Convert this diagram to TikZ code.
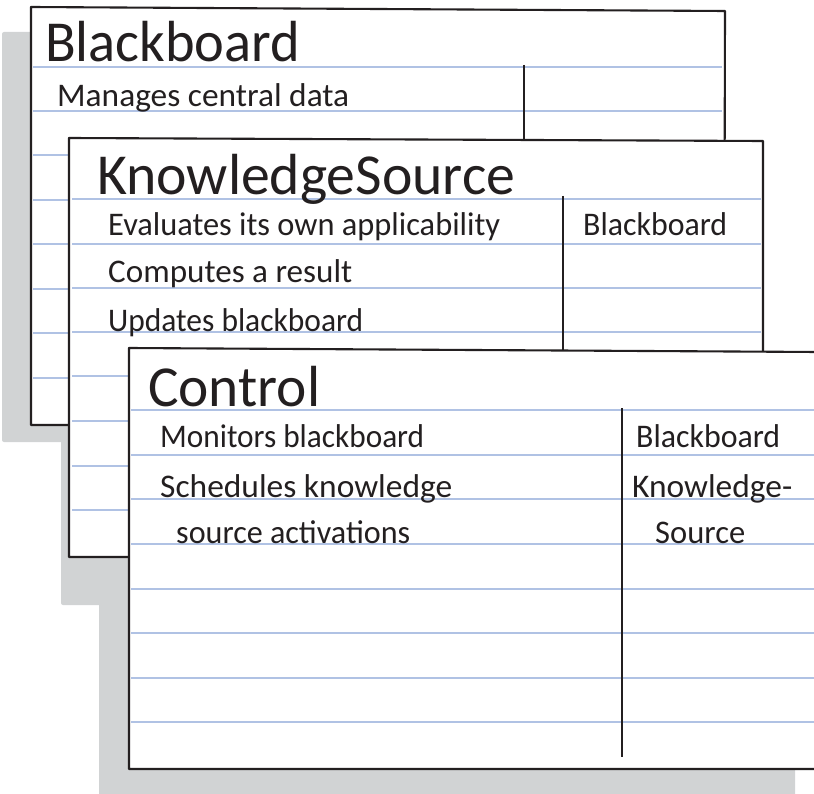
\documentclass[tikz,border=0pt]{standalone}
\usepackage{fontspec}
\setmainfont{Carlito}
\usepackage{graphicx}
\definecolor{shadowgray}{RGB}{209,211,212}
\definecolor{ruleblue}{RGB}{176,194,228}
\definecolor{ink}{RGB}{35,31,32}
\newcommand\hwfit[2]{\resizebox{#1pt}{\height}{#2}}
\tikzset{
  shadowbox/.style={fill=shadowgray, draw=none, rounded corners=2pt},
  cardbox/.style={fill=white, draw=ink, line width=2.1pt, line join=round},
  rulerow/.style={draw=ruleblue, line width=2pt},
  divider/.style={draw=ink, line width=2pt},
  titletext/.style={anchor=base west, inner sep=0pt, text=ink, font=\fontsize{58}{58}\selectfont},
  bodytext/.style={anchor=base west, inner sep=0pt, text=ink, font=\fontsize{33}{33}\selectfont},
}
\begin{document}
\begin{tikzpicture}[x=1pt,y=-1pt]
\useasboundingbox (0,0) rectangle (814,794);
% shadows
\fill[shadowbox] (2,32) rectangle (600,442);
\fill[shadowbox] (61,300) rectangle (700,605);
\fill[shadowbox] (99,500) rectangle (795,800);
% card 1: Blackboard
\draw[cardbox] (31,7) -- (725,11) -- (724,425) -- (31,425) -- cycle;
\foreach \y in {67,111,155,200,244,289,333,378} \draw[rulerow] (33,\y) -- (722,\y);
\draw[divider] (524,65) -- (524,140);
\node[titletext] (t1) at (45,62) {\hwfit{255}{Blackboard}};
\node[bodytext] (r11) at (57,107) {\hwfit{292}{Manages central data}};
% card 2: KnowledgeSource
\draw[cardbox] (69,138) -- (763,141) -- (763,557) -- (69,557) -- cycle;
\foreach \y in {199,244,288,332,376,421,466,510} \draw[rulerow] (72,\y) -- (761,\y);
\draw[divider] (563,196) -- (563,352);
\node[titletext] (t2) at (97,195) {\hwfit{418}{KnowledgeSource}};
\node[bodytext] (r21) at (108,236) {\hwfit{392}{Evaluates its own applicability}};
\node[bodytext] (r22) at (108,283) {\hwfit{244}{Computes a result}};
\node[bodytext] (r23) at (108,331) {\hwfit{255}{Updates blackboard}};
\node[bodytext] (c21) at (583,236) {\hwfit{144}{Blackboard}};
% card 3: Control
\draw[cardbox] (129,348) -- (818,352) -- (818,769) -- (129,769) -- cycle;
\foreach \y in {410,455,499,544,589,633,678,722} \draw[rulerow] (131,\y) -- (816,\y);
\draw[divider] (622,408) -- (622,757);
\node[titletext] (t3) at (148,406) {\hwfit{172}{Control}};
\node[bodytext] (r31) at (160,447) {\hwfit{264}{Monitors blackboard}};
\node[bodytext] (r32) at (160,497) {\hwfit{292}{Schedules knowledge}};
\node[bodytext] (r33) at (176,543) {\hwfit{234}{source activations}};
\node[bodytext] (c31) at (636,447) {\hwfit{144}{Blackboard}};
\node[bodytext] (c32) at (632,497) {\hwfit{160}{Knowledge-}};
\node[bodytext] (c33) at (655,543) {\hwfit{90}{Source}};
\end{tikzpicture}
\end{document}
